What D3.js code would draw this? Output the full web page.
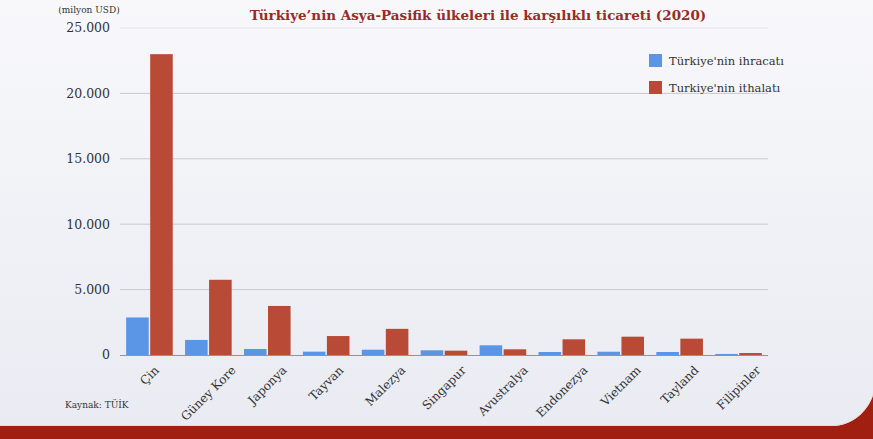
<!DOCTYPE html>
<html>
<head>
<meta charset="utf-8">
<script src="https://cdn.jsdelivr.net/npm/d3@7"></script>
<style>
	body { margin: 0; }
	#root { width: 873px; height: 439px; }
	text { font-family: "DejaVu Serif", serif; }
</style>
</head>
<body>
<div id="root"></div>
<script>
const countries = ["Çin", "Güney Kore", "Japonya", "Tayvan", "Malezya", "Singapur", "Avustralya", "Endonezya", "Vietnam", "Tayland", "Filipinler"];
const exports = [2870, 1150, 460, 255, 405, 360, 740, 230, 250, 230, 80];
const imports = [23000, 5750, 3750, 1450, 2000, 330, 435, 1200, 1400, 1250, 150];
const seriesNames = ["Türkiye'nin ihracatı", "Turkiye'nin ithalatı"];
const seriesColors = ["#5b95e6", "#b94a35"];
const yTicks = [0, 5000, 10000, 15000, 20000, 25000];

const width = 873, height = 439;
const margin = { top: 28, right: 105, bottom: 84, left: 120 };

const fmt = d => d3.format(",")(d).replace(/,/g, ".");

const svg = d3.select("#root")
	.append("svg")
		.attr("width", width)
		.attr("height", height);

// background
const defs = svg.append("defs");
const grad = defs.append("linearGradient")
	.attr("id", "bg")
	.attr("x1", 0).attr("y1", 0).attr("x2", 0).attr("y2", 1);
grad.append("stop").attr("offset", "0%").attr("stop-color", "#f8f8fb");
grad.append("stop").attr("offset", "100%").attr("stop-color", "#e9ebf2");

svg.append("rect")
	.attr("width", width)
	.attr("height", height)
	.attr("fill", "url(#bg)");

// red footer with curve
svg.append("path")
	.attr("d", `M0,426 L835,426 C855,424 868,410 873,395 L873,439 L0,439 Z`)
	.attr("fill", "#a11f10");
svg.append("path")
	.attr("d", `M0,425.5 L835,425.5 C855,423.5 868,409.5 873,394.5`)
	.attr("fill", "none")
	.attr("stroke", "#f4d6d0")
	.attr("stroke-width", 1);

const x0 = d3.scaleBand()
	.domain(countries)
	.range([margin.left, width - margin.right])
	.paddingInner(0.16)
	.paddingOuter(0.08);

const x1 = d3.scaleBand()
	.domain([0, 1])
	.range([0, x0.bandwidth()])
	.padding(0.06);

const y = d3.scaleLinear()
	.domain([0, 25000])
	.range([height - margin.bottom, margin.top]);

// gridlines
svg.append("g")
	.selectAll("line")
	.data(yTicks.filter(d => d > 0))
	.join("line")
		.attr("x1", margin.left)
		.attr("x2", width - margin.right)
		.attr("y1", d => y(d))
		.attr("y2", d => y(d))
		.attr("stroke", d => d === 25000 ? "#e4e4ea" : "#c9c9cf")
		.attr("stroke-width", 1);

// y labels
svg.append("g")
	.selectAll("text")
	.data(yTicks)
	.join("text")
		.attr("x", 110)
		.attr("y", d => y(d))
		.attr("dy", "0.35em")
		.attr("text-anchor", "end")
		.attr("font-size", 12.5)
		.attr("fill", "#333")
		.text(fmt);

svg.append("text")
	.attr("x", 89)
	.attr("y", 13)
	.attr("text-anchor", "middle")
	.attr("font-size", 9)
	.attr("fill", "#333")
	.text("(milyon USD)");

// bars
const groups = svg.append("g")
	.selectAll("g")
	.data(countries)
	.join("g")
		.attr("transform", d => `translate(${x0(d)},0)`);

groups.selectAll("rect")
	.data((d, i) => [exports[i], imports[i]])
	.join("rect")
		.attr("x", (d, j) => x1(j))
		.attr("width", x1.bandwidth())
		.attr("y", d => y(d))
		.attr("height", d => y(0) - y(d))
		.attr("fill", (d, j) => seriesColors[j]);

// baseline
svg.append("line")
	.attr("x1", margin.left)
	.attr("x2", width - margin.right)
	.attr("y1", y(0) + 0.5)
	.attr("y2", y(0) + 0.5)
	.attr("stroke", "#8d93a0")
	.attr("stroke-width", 1.2);

// x labels, rotated about their centre
svg.append("g")
	.selectAll("text")
	.data(countries)
	.join("text")
		.attr("text-anchor", "middle")
		.attr("dy", "0.35em")
		.attr("font-size", 12)
		.attr("fill", "#333")
		.text(d => d)
		.attr("transform", function(d) {
			const len = this.getComputedTextLength();
			const cx = x0(d) + x0.bandwidth() / 2;
			const cy = y(0) + 13 + len * 0.354;
			return `translate(${cx},${cy}) rotate(-45)`;
		});

// title
svg.append("text")
	.attr("x", 478)
	.attr("y", 20)
	.attr("text-anchor", "middle")
	.attr("font-size", 13.5)
	.attr("font-weight", "bold")
	.attr("fill", "#9a2b24")
	.text("Türkiye’nin Asya-Pasifik ülkeleri ile karşılıklı ticareti (2020)");

// legend
const legend = svg.append("g")
	.selectAll("g")
	.data(seriesNames)
	.join("g")
		.attr("transform", (d, i) => `translate(649,${54 + i * 27})`);

legend.append("rect")
	.attr("width", 13)
	.attr("height", 13)
	.attr("fill", (d, i) => seriesColors[i]);

legend.append("text")
	.attr("x", 20)
	.attr("y", 6.5)
	.attr("dy", "0.35em")
	.attr("font-size", 11.5)
	.attr("fill", "#333")
	.text(d => d);

svg.append("text")
	.attr("x", 65)
	.attr("y", 408)
	.attr("font-size", 9)
	.attr("fill", "#333")
	.text("Kaynak: TÜİK");
</script>
</body>
</html>
